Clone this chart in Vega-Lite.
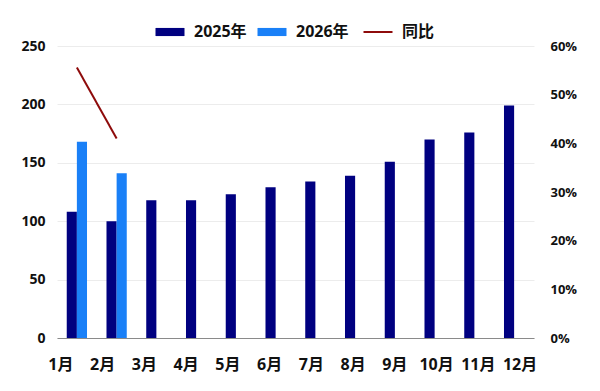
{
  "$schema": "https://vega.github.io/schema/vega-lite/v6.json",
  "width": 477,
  "height": 292,
  "autosize": {"type": "none"},
  "padding": {"left": 57, "top": 46, "right": 66, "bottom": 53},
  "background": "white",
  "config": {
    "view": {"stroke": null},
    "font": "'Open Sans', 'Noto Sans CJK SC', sans-serif",
    "axis": {"labelFont": "'Open Sans', 'Noto Sans CJK SC', sans-serif", "labelColor": "#111", "labelFontWeight": "bold", "ticks": false, "title": null}
  },
  "datasets": {
    "bars": [
      {"month": "1月", "series": "2025年", "value": 108},
      {"month": "1月", "series": "2026年", "value": 168},
      {"month": "2月", "series": "2025年", "value": 100},
      {"month": "2月", "series": "2026年", "value": 141},
      {"month": "3月", "series": "2025年", "value": 118},
      {"month": "4月", "series": "2025年", "value": 118},
      {"month": "5月", "series": "2025年", "value": 123},
      {"month": "6月", "series": "2025年", "value": 129},
      {"month": "7月", "series": "2025年", "value": 134},
      {"month": "8月", "series": "2025年", "value": 139},
      {"month": "9月", "series": "2025年", "value": 151},
      {"month": "10月", "series": "2025年", "value": 170},
      {"month": "11月", "series": "2025年", "value": 176},
      {"month": "12月", "series": "2025年", "value": 199}
    ],
    "yoy": [
      {"month": "1月", "series": "同比", "yoy": 0.556},
      {"month": "2月", "series": "同比", "yoy": 0.41}
    ]
  },
  "encoding": {
    "x": {
      "field": "month",
      "type": "nominal",
      "sort": ["1月","2月","3月","4月","5月","6月","7月","8月","9月","10月","11月","12月"],
      "scale": {"paddingInner": 0.49, "paddingOuter": 0.245},
      "axis": {
        "labelAngle": 0, "labelFontSize": 16, "labelPadding": 18, "domainColor": "#8a8a8a", "domainWidth": 1, "grid": false,
        "labelOffset": {
          "condition": [
            {"test": "datum.value === '1月'", "value": -16},
            {"test": "datum.value === '2月'", "value": -14},
            {"test": "datum.value === '3月'", "value": -12},
            {"test": "datum.value === '4月'", "value": -10},
            {"test": "datum.value === '5月'", "value": -8},
            {"test": "datum.value === '6月'", "value": -6},
            {"test": "datum.value === '7月'", "value": -4},
            {"test": "datum.value === '8月'", "value": -2},
            {"test": "datum.value === '10月'", "value": 2},
            {"test": "datum.value === '11月'", "value": 4},
            {"test": "datum.value === '12月'", "value": 6}
          ],
          "value": 0
        }
      }
    }
  },
  "layer": [
    {
      "data": {"name": "bars"},
      "mark": {"type": "bar"},
      "encoding": {
        "xOffset": {"field": "series", "type": "nominal", "scale": {"domain": ["2025年", "2026年"], "paddingInner": 0}},
        "y": {
          "field": "value", "type": "quantitative",
          "scale": {"domain": [0, 250]},
          "axis": {"values": [0, 50, 100, 150, 200, 250], "labelFontSize": 14, "labelPadding": 12, "domain": false, "gridColor": "#ececec", "gridWidth": 1}
        },
        "color": {
          "field": "series", "type": "nominal",
          "scale": {"domain": ["2025年", "2026年", "同比"], "range": ["#000080", "#1a80f7", "#8e0b0b"]},
          "legend": {
            "title": null,
            "orient": "none",
            "direction": "horizontal",
            "legendX": 105,
            "legendY": -22,
            "labelFontSize": 16,
            "labelFontWeight": "bold",
            "labelColor": "#111",
            "labelFont": "'Open Sans', 'Noto Sans CJK SC', sans-serif",
            "labelOffset": 16,
            "columnPadding": 10,
            "symbolSize": 841,
            "symbolType": "M-1,-0.28H1V0.28H-1Z",
            "encode": {
              "symbols": {
                "update": {
                  "shape": {"signal": "datum.label === '同比' ? 'stroke' : 'M-1,-0.28H1V0.28H-1Z'"},
                  "fill": {"signal": "datum.label === '同比' ? 'transparent' : scale('color', datum.value)"},
                  "stroke": {"signal": "scale('color', datum.value)"},
                  "strokeWidth": {"signal": "datum.label === '同比' ? 2 : 0"},
                  "opacity": {"value": 1}
                }
              }
            }
          }
        }
      }
    },
    {
      "data": {"name": "yoy"},
      "mark": {"type": "line", "strokeWidth": 2},
      "encoding": {
        "y": {
          "field": "yoy", "type": "quantitative",
          "scale": {"domain": [0, 0.6]},
          "axis": {"orient": "right", "format": ".0%", "values": [0, 0.1, 0.2, 0.3, 0.4, 0.5, 0.6], "labelFontSize": 13, "labelPadding": 16, "domain": false, "grid": false}
        },
        "color": {"field": "series", "type": "nominal"}
      }
    }
  ],
  "resolve": {"scale": {"y": "independent"}}
}
